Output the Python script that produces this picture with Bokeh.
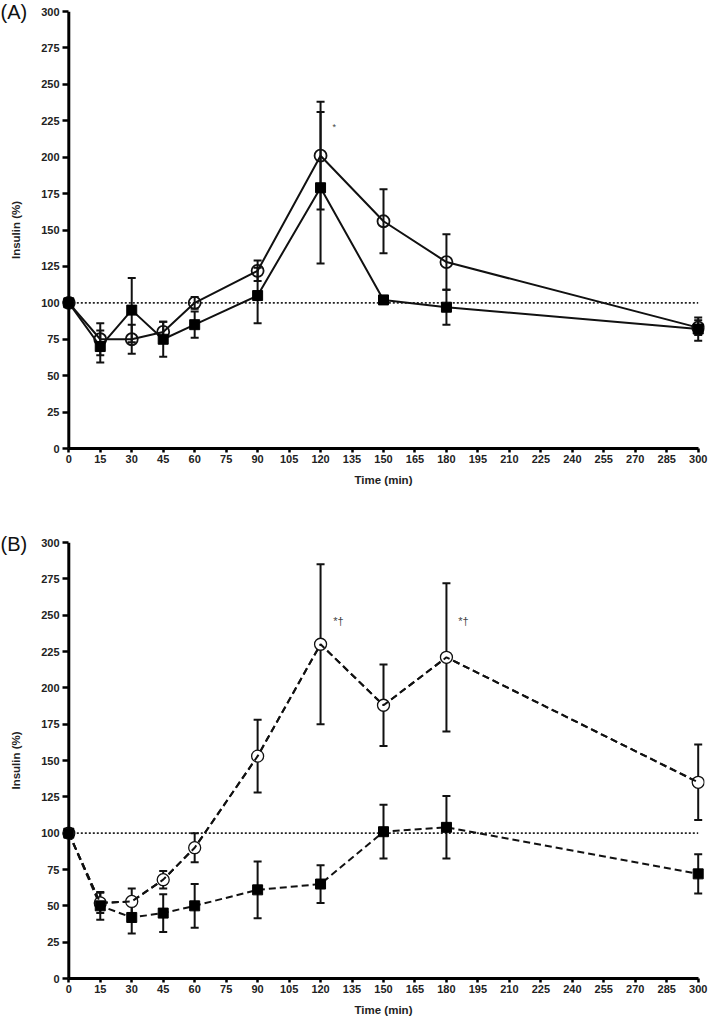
from bokeh.plotting import figure
from bokeh.models import FixedTicker, Range1d, Label, ColumnDataSource, Span
from bokeh.layouts import column
from bokeh.embed import file_html
from bokeh.resources import INLINE
from bokeh.core.properties import value

# ---------------- data ----------------
times = [0, 15, 30, 45, 60, 90, 120, 150, 180, 300]
x_ticks = [0, 15, 30, 45, 60, 75, 90, 105, 120, 135, 150, 165, 180, 195,
           210, 225, 240, 255, 270, 285, 300]
y_ticks = [0, 25, 50, 75, 100, 125, 150, 175, 200, 225, 250, 275, 300]

# Panel A (solid lines)
a_circle = [100, 75, 75, 80, 100, 122, 201, 156, 128, 83]
a_circle_err = [0, 11, 10, 7, 4, 7, 37, 22, 19, 5]
a_square = [100, 70, 95, 75, 85, 105, 179, 102, 97, 82]
a_square_err = [0, 11, 22, 12, 9, 19, 52, 2, 12, 8]

# Panel B (dashed lines)
b_circle = [100, 52, 53, 68, 90, 153, 230, 188, 221, 135]
b_circle_err = [0, 7, 9, 6, 10, 25, 55, 28, 51, 26]
b_square = [100, 50, 42, 45, 50, 61, 65, 101, 104, 72]
b_square_err = [0, 9.5, 11, 13, 15, 19.5, 13, 18.5, 21.5, 13.5]

# reference line
ref_x = [0, 300]
ref_y = [100, 100]

# significance marks
a_mark_x = [126.5]
a_mark_y = [221]
a_mark_text = ["*"]
b_mark_x = [126.0, 185.6]
b_mark_y = [246, 246]
b_mark_text = ["*\u2020", "*\u2020"]

FONT = "Liberation Sans"
INK = "#111111"
TXT = "#222222"


def err_parts(x, y, e):
    xs, lo, hi = [], [], []
    for xi, yi, ei in zip(x, y, e):
        if ei > 0:
            xs.append(xi)
            lo.append(yi - ei)
            hi.append(yi + ei)
    return xs, lo, hi


def panel(height, top, bottom, circ, circ_e, sq, sq_e, dash, circ_fill,
          circ_lw, mk_x, mk_y, mk_t, mk_size, mk_align,
          panel_text, panel_cy, panel_side):
    p = figure(width=709, height=height,
               x_range=Range1d(-3, 303), y_range=Range1d(0, 300),
               output_backend="svg", toolbar_location=None,
               min_border_left=62, min_border_right=5,
               min_border_top=top, min_border_bottom=bottom)
    p.outline_line_color = None
    p.xgrid.visible = False
    p.ygrid.visible = False
    p.background_fill_color = "white"
    p.border_fill_color = "white"

    xa = p.xaxis[0]
    xa.ticker = FixedTicker(ticks=x_ticks)
    xa.bounds = (0, 300)
    xa.axis_label = "Time (min)"
    xa.axis_label_standoff = 8
    xa.axis_line_width = 3
    xa.axis_line_color = "black"
    xa.major_tick_out = 4
    xa.major_tick_in = 0
    xa.major_label_standoff = 2

    ya = p.yaxis[0]
    ya.ticker = FixedTicker(ticks=y_ticks)
    ya.axis_label = "Insulin (%)"
    ya.axis_label_standoff = 16
    ya.axis_line_color = None
    ya.major_tick_out = 0
    ya.major_tick_in = 6
    ya.major_label_standoff = 3

    for ax in (xa, ya):
        ax.major_tick_line_width = 2.5
        ax.major_tick_line_color = "black"
        ax.minor_tick_line_color = None
        ax.major_label_text_font = FONT
        ax.major_label_text_font_style = "bold"
        ax.major_label_text_font_size = "11px"
        ax.major_label_text_color = TXT
        ax.axis_label_text_font = FONT
        ax.axis_label_text_font_style = "bold"
        ax.axis_label_text_font_size = "11.5px"
        ax.axis_label_text_color = TXT

    # vertical axis line at time 0
    p.add_layout(Span(location=0, dimension="height", line_color="black",
                      line_width=3))

    # dotted 100 % line
    p.line(ref_x, ref_y, line_color=TXT, line_width=1.6, line_dash="2 2")

    # connecting lines
    p.line(times, circ, line_color=INK, line_width=2, line_dash=dash)
    p.line(times, sq, line_color=INK, line_width=2, line_dash=dash)

    # error bars
    for y, e in ((circ, circ_e), (sq, sq_e)):
        xs, lo, hi = err_parts(times, y, e)
        p.segment(xs, lo, xs, hi, line_color=INK, line_width=2)
        p.scatter(xs + xs, lo + hi, marker="dash", size=8,
                  line_color=INK, line_width=2)

    # markers
    if circ_fill:
        p.scatter(times, circ, marker="circle", size=12, fill_color="white",
                  line_color=INK, line_width=circ_lw)
        p.line(times, circ, line_color=INK, line_width=2, line_dash=dash)
    else:
        p.scatter(times, circ, marker="circle", size=12, fill_alpha=0,
                  line_color=INK, line_width=circ_lw)
    p.scatter(times, sq, marker="square", size=10, fill_color="black",
              line_color="black", line_width=1)

    # significance marks
    src = ColumnDataSource(dict(x=mk_x, y=mk_y, t=mk_t))
    p.text(x="x", y="y", text="t", source=src, text_font=value(FONT),
           text_font_size=mk_size, text_color="#444444",
           text_align=mk_align, text_baseline="middle")

    # panel letter (kept in a side panel so it is not clipped to the frame)
    p.add_layout(Label(x=0, y=panel_cy, x_units="canvas", y_units="canvas",
                       text=panel_text, text_align="left",
                       text_baseline="middle", text_font=FONT,
                       text_font_size="20px", text_color=INK), panel_side)
    return p


pa = panel(514, 11, 66, a_circle, a_circle_err, a_square, a_square_err,
           "solid", False, 1.8, a_mark_x, a_mark_y, a_mark_text, "9px",
           "center", "(A)", 11, "below")
pb = panel(504, 28, 40, b_circle, b_circle_err, b_square, b_square_err,
           "7 4", True, 1.3, b_mark_x, b_mark_y, b_mark_text, "11px",
           "left", "(B)", 29, "above")

layout = column(pa, pb, spacing=0)
open("out.html", "w").write(file_html(layout, INLINE))
